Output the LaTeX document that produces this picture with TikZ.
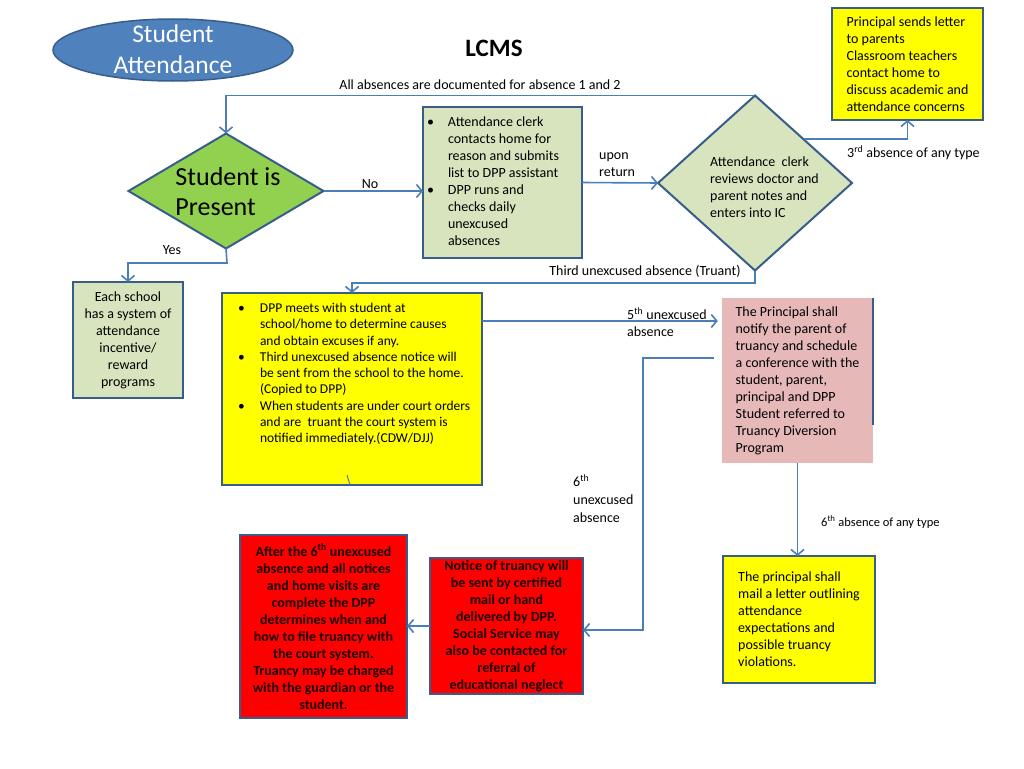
\documentclass[tikz,border=0pt]{standalone}
\usepackage{fontspec}
\setmainfont{Carlito}
\usetikzlibrary{shapes.geometric,arrows.meta,calc}
\definecolor{bord}{HTML}{385D8A}
\definecolor{arr}{HTML}{4A7EBB}
\definecolor{ellfill}{HTML}{4F81BD}
\definecolor{lgreen}{HTML}{D7E4BD}
\definecolor{dgreen}{HTML}{92D050}
\definecolor{pinkf}{HTML}{E6B9B8}
\definecolor{yel}{HTML}{FFFF00}
\definecolor{redf}{HTML}{FF0000}
\definecolor{redtxt}{HTML}{1A0000}
\newcommand\bodyfont{\fontsize{14}{17}\selectfont}
\newcommand\labfont{\fontsize{14}{17}\selectfont}
\begin{document}
\begin{tikzpicture}[x=1pt,y=-1pt,
  box/.style={draw=bord,line width=2.2pt,inner sep=0pt,outer sep=0pt,font=\bodyfont},
  dia/.style={diamond,draw=bord,line width=2pt,inner sep=0pt,outer sep=0pt},
  link/.style={draw=arr,line width=1.6pt,-{Straight Barb[length=5.5pt,width=13pt,line width=1.6pt]}},
  plain/.style={draw=arr,line width=1.6pt},
  lab/.style={font=\labfont,inner sep=0pt,align=left},
  redbox/.style={box,fill=redf,text=redtxt,font=\bodyfont\bfseries,align=center}]
\useasboundingbox (0,0) rectangle (1024,768);

% title ellipse
\node[ellipse,draw=bord,line width=1.5pt,fill=ellfill,minimum width=240,minimum height=62,inner sep=0pt] (ell) at (173,50) {};
\node[text=white,font=\fontsize{25.5}{31}\selectfont,align=center,inner sep=0pt] (elltxt) at (173,49.5) {Student\\Attendance};
\node[font=\fontsize{25}{28}\selectfont\bfseries,inner sep=0pt] (title) at (494,48) {LCMS};

% decision diamonds
\node[dia,fill=dgreen,minimum width=195,minimum height=115] (dia1) at (226,191) {};
\node[font=\fontsize{26}{30}\selectfont,align=left,inner sep=0pt] (dia1txt) at (228,192) {Student is\\Present};
\node[dia,fill=lgreen,minimum width=194,minimum height=175] (dia2) at (755,183) {};
\node[font=\bodyfont,align=left,inner sep=0pt,anchor=west] (dia2txt) at (710,187) {Attendance\ \ clerk\\reviews doctor and\\parent notes and\\enters into IC};

% boxes
\node[box,fill=lgreen,minimum width=159,minimum height=151] (box1) at (502.5,182.5) {%
\begin{minipage}{159pt}
\begin{tabular}{@{\hspace{4pt}}p{21pt}@{}l@{}}
\textbullet & Attendance clerk\\
 & contacts home for\\
 & reason and submits\\
 & list to DPP assistant\\
\textbullet & DPP runs and\\
 & checks daily\\
 & unexcused\\
 & absences
\end{tabular}
\end{minipage}};

\node[box,fill=yel,minimum width=151,minimum height=112,align=left] (tr) at (907.5,64) {Principal sends letter\\to parents\\Classroom teachers\\contact home to\\discuss academic and\\attendance concerns};

\node[box,fill=lgreen,minimum width=110,minimum height=116,align=center] (school) at (128,340) {Each school\\has a system of\\attendance\\incentive/\\reward\\programs};

\node[box,fill=yel,minimum width=260,minimum height=192,font=\fontsize{13.5}{16.3}\selectfont] (yb2) at (352,389) {%
\begin{minipage}[c][186pt][t]{258pt}\vspace*{5pt}
\begin{tabular}{@{\hspace{15pt}}p{22pt}@{}l@{}}
\textbullet & DPP meets with student at\\
 & school/home to determine causes\\
 & and obtain excuses if any.\\
\textbullet & Third unexcused absence notice will\\
 & be sent from the school to the home.\\
 & (Copied to DPP)\\
\textbullet & When students are under court orders\\
 & and are\ \ truant the court system is\\
 & notified immediately.(CDW/DJJ)
\end{tabular}
\end{minipage}};

\node[fill=pinkf,inner sep=0pt,minimum width=151,minimum height=165,font=\bodyfont,align=left] (pink) at (797.5,380.5) {The Principal shall\\notify the parent of\\truancy and schedule\\a conference with the\\student, parent,\\principal and DPP\\Student referred to\\Truancy Diversion\\Program};
\draw[draw=bord,line width=2pt] (pink.north east) -- ($(pink.north east)+(0,127)$);

\node[box,fill=yel,minimum width=152,minimum height=127,align=left] (yb3) at (799,619.5) {The principal shall\\mail a letter outlining\\attendance\\expectations and\\possible truancy\\violations.};

\node[redbox,minimum width=153,minimum height=136] (red2) at (506.5,626) {Notice of truancy will\\be sent by certified\\mail or hand\\delivered by DPP.\\Social Service may\\also be contacted for\\referral of\\educational neglect};

\node[redbox,minimum width=167,minimum height=183] (red1) at (323.5,626.5) {After the 6\textsuperscript{th} unexcused\\absence and all notices\\and home visits are\\complete the DPP\\determines when and\\how to file truancy with\\the court system.\\Truancy may be charged\\with the guardian or the\\student.};

% connectors
\draw[link] (dia2.north) -| (dia1.north);
\draw[link] (dia1.east) -- (dia1.east -| box1.west);
\draw[link] (box1.east) -- (dia2.west);
\draw[link] (dia2.north east) -| (tr.south);
\coordinate (t3) at (755,283);
\draw[link] (dia2.south) -- (t3) -| (yb2.north);
\coordinate (ty) at (227,263);
\draw[link] (dia1.south) -- (ty) -| (school.north);
\coordinate (p5) at ($(yb2.north east)+(0,28)$);
\draw[link,shorten >=4pt] (p5) -- (p5 -| pink.west);
\coordinate (p6) at ($(pink.west)+(-8,-22.5)$);
\coordinate (c6) at (643,630);
\draw[link] (p6) -- (p6 -| c6) -- (c6) -- (c6 -| red2.east);
\draw[link] (pink.south) -- (pink.south |- yb3.north);
\draw[link] (red2.west) -- (red2.west -| red1.east);
\coordinate (tk) at ($(yb2.south)+(-5,-10)$);
\draw[plain,line width=1pt] (tk) -- ($(yb2.south)+(-2,0)$);

% labels
\node[lab] (l1) at (480,85) {All absences are documented for absence 1 and 2};
\node[lab] (lno) at (370,184) {No};
\node[lab,anchor=west] (lup) at (599,165) {upon\\return};
\node[lab,anchor=west] (l3rd) at (847,153) {3\textsuperscript{rd} absence of any type};
\node[lab] (ltr) at (645,271) {Third unexcused absence (Truant)};
\node[lab] (lyes) at (172,250) {Yes};
\node[lab,anchor=west] (l5) at (627,322.5) {5\textsuperscript{th} unexcused\\absence};
\node[lab,anchor=west,font=\fontsize{14}{18}\selectfont] (l6) at (573,499) {6\textsuperscript{th}\\unexcused\\absence};
\node[lab,anchor=west,font=\fontsize{12.5}{14}\selectfont] (l6b) at (821,522) {6\textsuperscript{th} absence of any type};
\end{tikzpicture}
\end{document}
